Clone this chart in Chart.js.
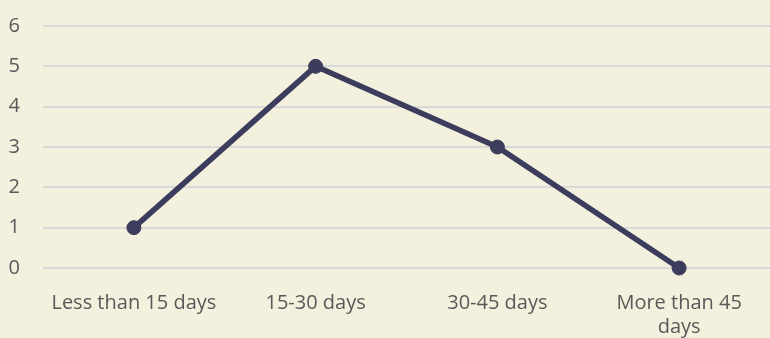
<!DOCTYPE html>
<html>
<head>
<meta charset="utf-8">
<script src="https://cdn.jsdelivr.net/npm/chart.js@4/dist/chart.umd.min.js"></script>
<style>
  html, body { margin: 0; padding: 0; background: #f3f0de; overflow: hidden; }
  canvas { display: block; }
</style>
</head>
<body>
<canvas id="chart" width="770" height="338"></canvas>
<script>
const categories = ['Less than 15 days', '15-30 days', '30-45 days', ['More than 45', 'days']];
const counts = [1, 5, 3, 0];
const yTicks = [0, 1, 2, 3, 4, 5, 6];

const textColor = '#595959';
const lineColor = '#3c3c5c';
const tickFont = { family: 'Open Sans', size: 20, lineHeight: 1.2 };

new Chart(document.getElementById('chart'), {
  type: 'line',
  data: {
    labels: categories,
    datasets: [{
      data: counts,
      borderColor: lineColor,
      backgroundColor: lineColor,
      borderWidth: 5.5,
      pointRadius: 7,
      pointBorderWidth: 1,
      pointHoverRadius: 7,
      tension: 0,
      clip: false
    }]
  },
  options: {
    responsive: false,
    animation: false,
    layout: { autoPadding: false, padding: { top: 26, right: 0, left: 0, bottom: 0 } },
    plugins: { legend: { display: false }, tooltip: { enabled: false } },
    scales: {
      x: {
        offset: true,
        grid: { display: false },
        border: { display: false },
        ticks: {
          color: textColor,
          font: tickFont,
          maxRotation: 0,
          autoSkip: false,
          padding: 15
        },
        afterFit: (s) => { s.height = 70; }
      },
      y: {
        min: yTicks[0],
        max: yTicks[yTicks.length - 1],
        afterBuildTicks: (s) => { s.ticks = yTicks.map(v => ({ value: v })); },
        grid: { color: '#d9d9d9', lineWidth: 2, drawTicks: true, tickLength: 23, tickColor: 'rgba(0,0,0,0)' },
        border: { display: false },
        ticks: {
          color: textColor,
          font: tickFont,
          padding: 0
        },
        afterFit: (s) => { s.width = 43; }
      }
    }
  }
});
</script>
</body>
</html>
